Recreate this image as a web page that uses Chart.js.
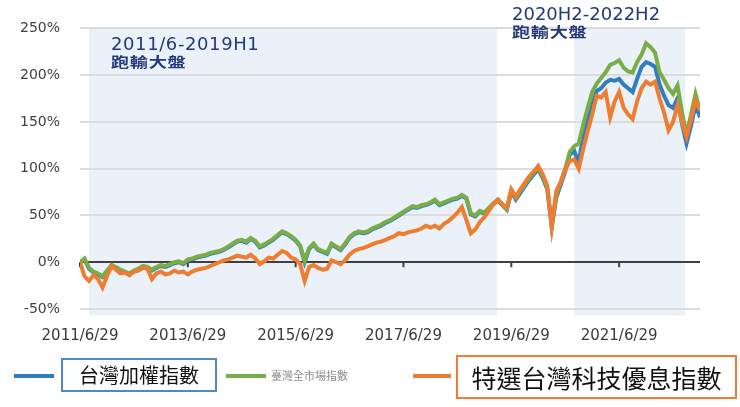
<!DOCTYPE html>
<html>
<head>
<meta charset="utf-8">
<script src="https://cdn.jsdelivr.net/npm/chart.js@4.4.1/dist/chart.umd.min.js"></script>
<style>
  body { margin: 0; background: #fff; }
  #wrap { position: relative; width: 740px; height: 407px; overflow: hidden; }
  canvas { position: absolute; left: 0; top: 0; }
  .ann { position: absolute; color: #23397a; white-space: nowrap; }
  .ann .l1 { font: 18px "DejaVu Sans", sans-serif; line-height: 18px; }
  .ann .l2 { font: bold 14px "Noto Sans CJK TC", sans-serif; line-height: 16px;
             transform: scaleX(1.3); transform-origin: left center; letter-spacing: 0.5px; }
  .lg-line { position: absolute; height: 4px; }
  .lg-box { position: absolute; box-sizing: border-box; background: #fff; color: #111;
            font-family: "Noto Sans CJK TC", sans-serif; text-align: center; white-space: nowrap; }
  .lg-small { position: absolute; color: #8c8c8c; font: 11px "Noto Sans CJK TC", sans-serif; white-space: nowrap; }
</style>
</head>
<body>
<div id="wrap">
  <canvas id="chart" width="740" height="407"></canvas>

  <div class="ann" style="left:111px; top:35px;">
    <div class="l1" style="letter-spacing:0.6px;">2011/6-2019H1</div>
    <div class="l2">跑輸大盤</div>
  </div>
  <div class="ann" style="left:512px; top:5px;">
    <div class="l1">2020H2-2022H2</div>
    <div class="l2">跑輸大盤</div>
  </div>

  <div class="lg-line" style="left:14px; top:374px; width:40px; background:#2f7dc2;"></div>
  <div class="lg-box" style="left:61px; top:358px; width:156px; height:34px; border:2px solid #4f88c6;
       font-size:20px; line-height:30px;">台灣加權指數</div>
  <div class="lg-line" style="left:226px; top:374px; width:40px; background:#7aad45;"></div>
  <div class="lg-small" style="left:271px; top:367px;">臺灣全市場指數</div>
  <div class="lg-line" style="left:413px; top:374px; width:38px; background:#ef7d31;"></div>
  <div class="lg-box" style="left:456px; top:355px; width:281px; height:44px; border:2px solid #ef7d31;
       font-size:25px; line-height:40px;">特選台灣科技優息指數</div>
</div>

<script>
// months since 2011/6/29
const months = Array.from({ length: 139 }, (_, i) => i);

// cumulative return, %
const taiex = [0,3,-7,-11,-13,-16,-10,-4,-6,-9,
  -11,-13,-10,-8,-5,-6,-9,-6,-4,-5,
  -3,-1,0,-2,2,3,5,6,7,9,
  10,11,13,16,19,22,23,21,25,22,
  16,18,21,24,28,32,30,27,23,17,
  0,14,19,13,11,9,19,16,13,19,
  26,30,32,31,32,35,37,39,42,44,
  47,50,53,56,59,58,60,61,63,66,
  61,63,65,67,68,71,68,51,49,54,
  52,57,62,66,61,56,75,67,74,81,
  88,94,99,90,78,37,69,83,97,115,
  119,106,135,152,168,183,186,192,195,194,
  196,190,186,182,196,209,214,212,209,190,
  178,168,165,175,148,127,146,168,155];

const allMarket = [0,4,-6,-10,-12,-15,-9,-3,-5,-8,
  -10,-12,-9,-7,-4,-5,-8,-5,-3,-4,
  -2,0,1,-1,3,4,6,7,8,10,
  11,12,14,17,20,23,24,22,26,23,
  17,19,22,25,29,33,31,28,24,18,
  2,15,20,14,12,10,20,17,14,20,
  27,31,33,32,33,36,38,40,43,45,
  48,51,54,57,60,59,61,62,64,67,
  62,64,66,68,69,72,69,52,50,55,
  53,58,63,67,62,57,77,69,76,83,
  90,96,101,92,80,40,72,86,100,118,
  124,127,147,165,182,191,197,203,211,213,
  216,208,204,203,214,222,234,230,224,203,
  195,186,180,189,160,137,158,180,162];

const techDividend = [0,-15,-20,-14,-18,-27,-15,-4,-8,-12,
  -11,-14,-10,-9,-6,-7,-18,-12,-10,-13,
  -12,-9,-11,-10,-13,-10,-8,-7,-6,-4,
  -2,0,2,3,5,7,6,5,8,4,
  -2,1,5,4,8,12,10,5,3,-2,
  -20,-5,-3,-6,-8,-7,2,0,-2,2,
  8,12,14,15,17,19,21,22,24,26,
  28,31,30,32,33,34,36,39,37,39,
  36,41,44,48,53,59,45,31,35,43,
  48,55,62,67,62,58,78,70,78,85,
  92,97,103,94,82,38,76,86,99,108,
  110,100,121,140,158,178,176,182,155,172,
  182,165,158,153,172,186,193,190,193,175,
  160,141,150,168,150,134,152,173,163];

const xTicks = [0, 24, 48, 72, 96, 120];
const yTicks = [-50, 0, 50, 100, 150, 200, 250];
// shaded periods, in months
const shaded = [[2, 92.8], [110, 134.7]];

const pts = arr => months.map((m, i) => ({ x: m, y: arr[i] }));

const bgPlugin = {
  id: 'bands',
  beforeDraw(chart) {
    const { ctx, scales: { x, y } } = chart;
    ctx.save();
    ctx.fillStyle = '#eaf1f9';
    const top = y.getPixelForValue(250);
    const bot = y.getPixelForValue(-57);
    shaded.forEach(([a, b]) => {
      const l = x.getPixelForValue(a), r = x.getPixelForValue(b);
      ctx.fillRect(l, top, r - l, bot - top);
    });
    ctx.restore();
  },
  beforeDatasetsDraw(chart) {
    const { ctx, scales: { x, y } } = chart;
    const y0 = y.getPixelForValue(0);
    ctx.save();
    ctx.strokeStyle = '#404040';
    ctx.lineWidth = 2;
    xTicks.forEach(v => {
      const px = x.getPixelForValue(v);
      ctx.beginPath();
      ctx.moveTo(px, y0);
      ctx.lineTo(px, y0 + 5);
      ctx.stroke();
    });
    ctx.restore();
  }
};

const line = (data, color) => ({
  data: pts(data),
  borderColor: color,
  backgroundColor: color,
  borderWidth: 4,
  pointRadius: 0,
  tension: 0,
  fill: false
});

new Chart(document.getElementById('chart'), {
  type: 'line',
  data: {
    datasets: [
      line(techDividend, '#ef7d31'),
      line(allMarket, '#7aad45'),
      line(taiex, '#2f7dc2')
    ]
  },
  options: {
    responsive: false,
    animation: false,
    layout: { padding: { top: 20, right: 40, left: 0, bottom: 0 } },
    plugins: { legend: { display: false }, tooltip: { enabled: false } },
    scales: {
      x: {
        type: 'linear',
        min: 0,
        max: 138,
        afterFit(s) { s.height = 98; },
        afterBuildTicks(s) { s.ticks = xTicks.map(v => ({ value: v })); },
        grid: { display: false },
        border: { display: false },
        ticks: {
          padding: 10,
          maxRotation: 0,
          autoSkip: false,
          color: '#3a3a3a',
          font: { family: 'DejaVu Sans', size: 15 },
          callback: v => (2011 + v / 12) + '/6/29'
        }
      },
      y: {
        min: -50,
        max: 250,
        afterFit(s) { s.width = 80; },
        afterBuildTicks(s) { s.ticks = yTicks.map(v => ({ value: v })); },
        grid: {
          drawTicks: false,
          lineWidth: 2,
          color: c => (c.tick && c.tick.value === 0 ? '#404040' : '#dcdcdc')
        },
        border: { display: false },
        ticks: {
          padding: 20,
          color: '#404040',
          font: { family: 'DejaVu Sans', size: 14 },
          callback: v => v + '%'
        }
      }
    }
  },
  plugins: [bgPlugin]
});
</script>
</body>
</html>
